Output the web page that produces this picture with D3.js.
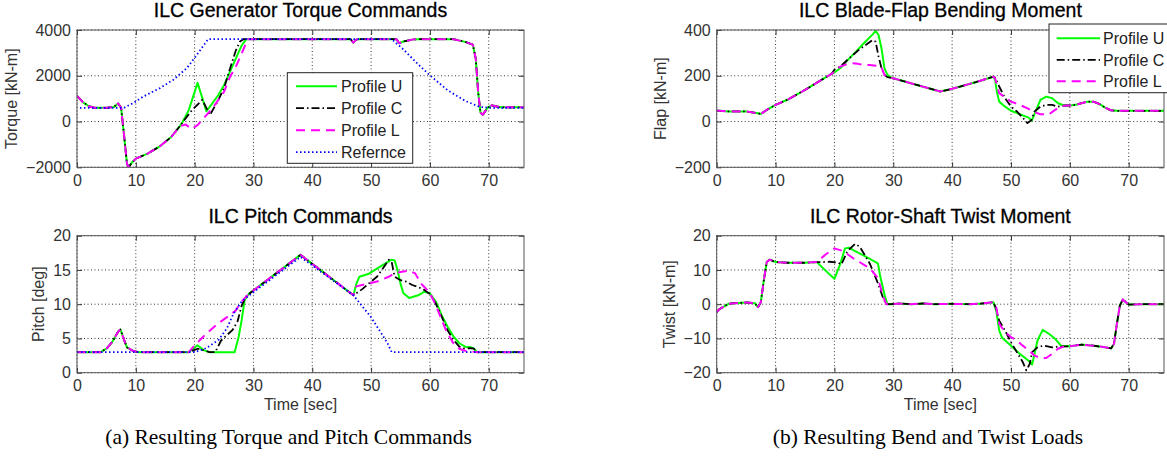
<!DOCTYPE html>
<html>
<head>
<meta charset="utf-8">
<script src="https://cdn.jsdelivr.net/npm/d3@7"></script>
<style>
  body { margin: 0; background: #fff; }
  svg { display: block; font-family: "Liberation Sans", Arial, sans-serif; }
</style>
</head>
<body>
<svg id="chart" width="1167" height="457"></svg>
<script>
// ------------------------------------------------------------------ //
// data: [time (sec), value]                      //
// ------------------------------------------------------------------ //
var timeTicks   = [0, 10, 20, 30, 40, 50, 60, 70];
var torqueTicks = [-2000, 0, 2000, 4000];
var pitchTicks  = [0, 5, 10, 15, 20];
var flapTicks   = [-200, 0, 200, 400];
var twistTicks  = [-20, -10, 0, 10, 20];
var seriesNames = ["Profile U", "Profile C", "Profile L", "Refernce"];

// torque [kN-m]
var torqueHead = [[0,1120],[1,850],[2,670],[3,600],[5,600],[6.3,640],[7,790],[7.5,600],[8,-600],[8.5,-1850],[8.8,-2000],[9.3,-1800],[10,-1620],[12,-1400],[14,-1100],[16,-680],[17.5,-200]];
var torqueUMid = [[18,0],[19,500],[20.5,1690],[22,450],[23,790],[24,1150],[25,1590],[26,2170],[27,2750],[28,3330],[28.8,3600]];
var torqueCMid = [[18,-20],[19.5,480],[21.3,950],[22.6,280],[24,930],[25,1450],[26,2300],[27,3100],[27.7,3500],[28.3,3600]];
var torqueLMid = [[18.5,-130],[19.5,-330],[20.5,-160],[21.5,130],[23,570],[25,1300],[26,1950],[27,2390],[28,2970],[29,3600]];
var torqueTail = [[30,3600],[46.5,3600],[47,3450],[47.5,3580],[48,3600],[54.3,3600],[54.8,3420],[55.5,3500],[57,3580],[58,3600],[64,3600],[66,3480],[67.3,3360],[67.8,2750],[68.2,1300],[68.6,390],[69,300],[69.8,600],[70.5,710],[72,620],[76,620]];
var torqueRef  = [[0.5,600],[8,600],[9.5,800],[11.3,1095],[14.1,1460],[16.4,1830],[18.7,2340],[20.4,2920],[22.3,3600],[53.5,3600],[55.5,3150],[58,2500],[60,2020],[63,1370],[66,900],[68.5,640],[70,600],[76,600]];

// pitch [deg]
var pitchHead = [[0,3],[4,3],[5,3.5],[6,4.5],[7,6],[7.4,6.3],[8,4.8],[8.5,3.7],[9.5,3.2],[10.5,3],[19,3]];
var pitchUMid = [[20.5,4.0],[21.5,3.3],[22.5,3.0],[26.8,3.0],[27.5,5.3],[28,7.7],[28.5,10.6],[29.3,11.6]];
var pitchCMid = [[20.5,3.5],[21.5,3.3],[22.5,3.0],[23.5,3.0],[24.5,4.7],[26.5,6.3],[27.3,7.5],[28,9.8],[28.8,11.2]];
var pitchLMid = [[20,4.0],[22,5.7],[24,7.2],[26,8.4],[27,9.1],[28,10.4],[29,11.3]];
var pitchPeak = [[30,12],[38,17.2],[47,11.3]];
var pitchUTail = [[47.5,13],[48,14],[49.5,14.4],[51,15.2],[52.5,16],[53.5,16.5],[54,16.4],[54.5,15],[55,13],[55.5,11.6],[56.5,10.9],[58,11.3],[59,11.8],[60,11.6],[61,10.4],[62,8.4],[63,6.7],[64,5.3],[65,4.3],[66,3.8],[67,3.7],[67.5,3.5],[68,3.0]];
var pitchCTail = [[48.5,12.2],[50,13.3],[51,14],[52,15.2],[53,16.5],[53.5,16.2],[54,14],[55,13.5],[56,13.3],[57,12.8],[58,12.5],[59,12.1],[60,11.5],[61,10.1],[62,8.2],[63,6.2],[64,4.8],[65,3.8],[66,3.5],[67,3.6],[67.5,3.5],[68,3.0]];
var pitchLTail = [[47.5,12.6],[49,12.9],[51,13.3],[53,14],[54,14.5],[55,14.7],[56.5,14.9],[57.5,14.5],[58.5,13],[59.5,12.1],[60,11.6],[61,9.9],[62,7.7],[63,5.7],[64,4.3],[65,3.5],[66,3.2],[67,3.1],[68,3]];
var pitchEnd  = [[69,3],[76,3]];
var pitchRef  = [[0,3],[20,3],[22,3.6],[24.1,4.8],[25.5,6.5],[26.6,8.6],[28,10.4],[29.3,11.3],[38,16.9],[47,11.3],[50,8.1],[52.8,4.3],[53.5,3],[76,3]];

// flap [kN-m]
var flapHead  = [[0,48],[2,44],[5,44],[7,36],[7.5,33],[8.5,51],[10,73],[12,95],[15,138],[18,185],[19.5,208]];
var flapUMid  = [[20,214],[21,233],[22,262],[23.5,301],[25,342],[26.5,381],[27,396],[27.5,378],[28,320],[28.5,233],[29,204],[29.5,194]];
var flapCMid  = [[20,226],[21,240],[22.5,276],[24,310],[25.5,338],[26.5,356],[27,349],[27.5,284],[28,233],[28.5,204],[29,194]];
var flapLMid  = [[20,218],[21,240],[22,250],[23,255],[24,252],[25,247],[26,247],[27,244],[28,237],[28.5,204],[29,194]];
var flapMid   = [[30,189],[34,160],[38,131],[40,143],[44,172],[47,196]];
var flapUTail = [[47.3,182],[47.6,131],[48,87],[49,65],[50,47],[51.5,32],[53,17],[53.5,3],[54,32],[55,95],[56,109],[57,102],[58,80],[59,70],[60,70]];
var flapCTail = [[47.3,192],[48,153],[49,102],[50,65],[51,44],[52,17],[52.8,-7],[53.5,7],[54,44],[55,65],[56,73],[57,73],[58,65],[59,70],[60,70]];
var flapLTail = [[47.3,189],[48,124],[49,105],[50,87],[51.5,73],[53,55],[54,41],[55,32],[56.5,32],[57.5,51],[58.5,68],[59.5,70],[60,70]];
var flapEnd   = [[61,73],[63,87],[64,87],[65,77],[66,61],[67,49],[68,47],[76,47]];

// twist [kN-m]
var twistHead  = [[0,-2.3],[0.5,-1.4],[1,-0.9],[2,0.1],[3,0.3],[5,0.5],[6.5,0.3],[7,-0.9],[7.5,0.6],[8,6.9],[8.5,12.3],[9,13],[10,12.3],[12,12.1],[15,12.1],[17,12.3]];
var twistUMid  = [[18.5,9.8],[20,7.4],[21,11.8],[21.8,16.3],[22.5,16.5],[23.2,15.8],[25,14.2],[27.4,11.9],[27.8,8],[28.6,2.2],[29,0]];
var twistCMid  = [[18,12.3],[19.2,12.4],[20.5,12.2],[21.2,11.6],[22.2,15.5],[23.5,17.6],[24.3,16.8],[26,11.9],[27.4,6.1],[28.4,1.2],[29,0]];
var twistLMid  = [[18.5,14.5],[20,16.3],[21.5,15.5],[23.2,13.4],[26,10.5],[27.4,7.6],[28.3,2.2],[28.8,0]];
var twistMid   = [[29.5,0],[31,0.2],[33,0],[35,0.2],[37,0],[40,0.1],[43,0],[45,0.2],[47,0.6]];
var twistUTail = [[47.5,-1.9],[48,-7.7],[48.5,-9.8],[50,-12.1],[51.5,-14.5],[53,-16.5],[53.6,-17.6],[54.5,-10.6],[55.4,-7.5],[56.5,-8.7],[57.5,-10.1],[58.5,-12.1],[60,-12.3]];
var twistCTail = [[47.5,-1.4],[48,-4.8],[49,-7.7],[50,-11.1],[51,-14],[52,-16.9],[52.6,-19.3],[53.2,-17.4],[53.6,-14],[54.5,-12.6],[55.5,-12.1],[57,-12.6],[58,-12.4],[60,-12.3]];
var twistLTail = [[47.5,-0.9],[48,-5.7],[49,-8.2],[50,-9.6],[51,-10.6],[52,-12.1],[53,-13.5],[54,-15],[55,-15.7],[56,-15.7],[57,-14.5],[58,-13],[59,-12.3],[60,-12.3]];
var twistEnd   = [[62,-11.8],[64,-12.1],[66,-12.6],[67,-12.9],[67.5,-11.6],[68,-5.7],[68.5,-0.4],[69,1.4],[69.5,0.6],[70,-0.1],[72,0],[76,0]];

// ------------------------------------------------------------------ //
// styles and layout                                                   //
// ------------------------------------------------------------------ //
var styles = [
  { color: "#00ff00", dash: null,          width: 2 },
  { color: "#000000", dash: "8,3,1.5,3",   width: 1.8 },
  { color: "#ff00ff", dash: "9,6",         width: 2 },
  { color: "#0000ff", dash: "1.5,2.5",     width: 1.8 }
];

var panels = [
  { title: "ILC Generator Torque Commands", ylabel: "Torque [kN-m]",
    box: [77, 30, 524, 167.3], domain: [-2000, 4000], ticks: torqueTicks, xlabel: false,
    series: [torqueHead.concat(torqueUMid, torqueTail), torqueHead.concat(torqueCMid, torqueTail),
             torqueHead.concat(torqueLMid, torqueTail), torqueRef],
    legend: { x: 287.3, y: 72.7, w: 125.4, h: 90.6, n: 4, line: [296, 337], text: 341, row0: 13.5, step: 22 } },
  { title: "ILC Pitch Commands", ylabel: "Pitch [deg]",
    box: [77, 235.7, 524, 372.7], domain: [0, 20], ticks: pitchTicks, xlabel: true,
    series: [pitchHead.concat(pitchUMid, pitchPeak, pitchUTail, pitchEnd), pitchHead.concat(pitchCMid, pitchPeak, pitchCTail, pitchEnd),
             pitchHead.concat(pitchLMid, pitchPeak, pitchLTail, pitchEnd), pitchRef] },
  { title: "ILC Blade-Flap Bending Moment", ylabel: "Flap [kN-m]",
    box: [716.7, 30, 1164, 167.3], domain: [-200, 400], ticks: flapTicks, xlabel: false,
    series: [flapHead.concat(flapUMid, flapMid, flapUTail, flapEnd), flapHead.concat(flapCMid, flapMid, flapCTail, flapEnd),
             flapHead.concat(flapLMid, flapMid, flapLTail, flapEnd)],
    legend: { x: 1049, y: 24, w: 130, h: 68.7, n: 3, line: [1056.7, 1100], text: 1103, row0: 14.3, step: 21.5 } },
  { title: "ILC Rotor-Shaft Twist Moment", ylabel: "Twist [kN-m]",
    box: [716.7, 235.7, 1164, 372.7], domain: [-20, 20], ticks: twistTicks, xlabel: true,
    series: [twistHead.concat(twistUMid, twistMid, twistUTail, twistEnd), twistHead.concat(twistCMid, twistMid, twistCTail, twistEnd),
             twistHead.concat(twistLMid, twistMid, twistLTail, twistEnd)] }
];

var svg = d3.select("#chart");
svg.append("rect").attr("width", 1167).attr("height", 457).attr("fill", "#fff");

panels.forEach(function(p, pi) {
  var x0 = p.box[0], y0 = p.box[1], x1 = p.box[2], y1 = p.box[3];
  var x = d3.scaleLinear().domain([0, 76]).range([x0, x1]);
  var y = d3.scaleLinear().domain(p.domain).range([y1, y0]);
  var g = svg.append("g").attr("class", "panel");

  // grid
  g.append("g").selectAll("line").data(timeTicks).enter().append("line")
    .attr("x1", function(d) { return x(d); }).attr("x2", function(d) { return x(d); })
    .attr("y1", y0).attr("y2", y1)
    .attr("stroke", "#000").attr("stroke-width", 0.8).attr("stroke-dasharray", "1,2.5");
  g.append("g").selectAll("line").data(p.ticks).enter().append("line")
    .attr("y1", function(d) { return y(d); }).attr("y2", function(d) { return y(d); })
    .attr("x1", x0).attr("x2", x1)
    .attr("stroke", "#000").attr("stroke-width", 0.8).attr("stroke-dasharray", "1,2.5");

  // lines
  var clipId = "clip" + pi;
  g.append("clipPath").attr("id", clipId).append("rect")
    .attr("x", x0).attr("y", y0).attr("width", x1 - x0).attr("height", y1 - y0);
  var line = d3.line()
    .x(function(d) { return x(d[0]); })
    .y(function(d) { return y(d[1]); });
  g.append("g").attr("clip-path", "url(#" + clipId + ")")
    .selectAll("path").data(p.series).enter().append("path")
      .attr("d", line)
      .attr("fill", "none")
      .attr("stroke", function(d, i) { return styles[i].color; })
      .attr("stroke-width", function(d, i) { return styles[i].width; })
      .attr("stroke-dasharray", function(d, i) { return styles[i].dash; })
      .attr("stroke-linejoin", "round");

  // axes: bottom/left with labels, top/right ticks only (inward)
  var tl = 5;
  var xAxis = d3.axisBottom(x).tickValues(timeTicks).tickSize(-tl).tickPadding(7).tickFormat(d3.format("d"));
  var yAxis = d3.axisLeft(y).tickValues(p.ticks).tickSize(-tl).tickPadding(6).tickFormat(d3.format("d"));
  var ax = g.append("g").attr("transform", "translate(0," + y1 + ")").call(xAxis);
  var ay = g.append("g").attr("transform", "translate(" + x0 + ",0)").call(yAxis);
  g.append("g").attr("transform", "translate(0," + y0 + ")")
    .call(d3.axisTop(x).tickValues(timeTicks).tickSize(-tl).tickFormat(""));
  g.append("g").attr("transform", "translate(" + x1 + ",0)")
    .call(d3.axisRight(y).tickValues(p.ticks).tickSize(-tl).tickFormat(""));
  g.selectAll(".domain").remove();
  g.selectAll(".tick line").attr("stroke", "#333").attr("stroke-width", 1);
  [ax, ay].forEach(function(a) {
    a.selectAll("text")
      .style("font-family", "'Liberation Sans', Arial, sans-serif")
      .style("font-size", "16px").attr("fill", "#333");
  });
  g.append("rect").attr("x", x0).attr("y", y0).attr("width", x1 - x0).attr("height", y1 - y0)
    .attr("fill", "none").attr("stroke", "#555").attr("stroke-width", 1);

  // title (slightly heavier stroke, like the reference rendering)
  g.append("text").attr("x", (x0 + x1) / 2).attr("y", y0 - 12.7)
    .attr("text-anchor", "middle").style("font-size", "19.5px").attr("fill", "#000")
    .attr("stroke", "#000").attr("stroke-width", 0.3)
    .text(p.title);

  // y label, placed left of the widest tick label
  var minX = d3.min(ay.selectAll("text").nodes(), function(n) { return n.getBBox().x; }) + x0;
  g.append("text")
    .attr("transform", "translate(" + (minX - 9) + "," + ((y0 + y1) / 2) + ") rotate(-90)")
    .attr("text-anchor", "middle").style("font-size", "16px").attr("fill", "#333")
    .text(p.ylabel);

  if (p.xlabel) {
    g.append("text").attr("x", (x0 + x1) / 2).attr("y", y1 + 37.5)
      .attr("text-anchor", "middle").style("font-size", "16px").attr("fill", "#333")
      .text("Time [sec]");
  }

  // legend
  if (p.legend) {
    var L = p.legend;
    var lg = g.append("g");
    lg.append("rect").attr("x", L.x).attr("y", L.y).attr("width", L.w).attr("height", L.h)
      .attr("fill", "#fff").attr("stroke", "#222").attr("stroke-width", 1);
    var rows = lg.selectAll("g.row").data(seriesNames.slice(0, L.n)).enter().append("g")
      .attr("transform", function(d, i) { return "translate(0," + (L.y + L.row0 + i * L.step) + ")"; });
    rows.append("line").attr("x1", L.line[0]).attr("x2", L.line[1])
      .attr("stroke", function(d, i) { return styles[i].color; })
      .attr("stroke-width", function(d, i) { return styles[i].width; })
      .attr("stroke-dasharray", function(d, i) { return styles[i].dash; });
    rows.append("text").attr("x", L.text).attr("y", 5.7)
      .style("font-size", "16px").attr("fill", "#222").text(function(d) { return d; });
  }
});

// sub-figure captions
[["(a) Resulting Torque and Pitch Commands", 288.5], ["(b) Resulting Bend and Twist Loads", 928]].forEach(function(c) {
  svg.append("text").attr("x", c[1]).attr("y", 444)
    .attr("text-anchor", "middle")
    .style("font-family", "'Liberation Serif', 'Times New Roman', serif")
    .style("font-size", "21.5px").attr("fill", "#000").text(c[0]);
});
</script>
</body>
</html>
